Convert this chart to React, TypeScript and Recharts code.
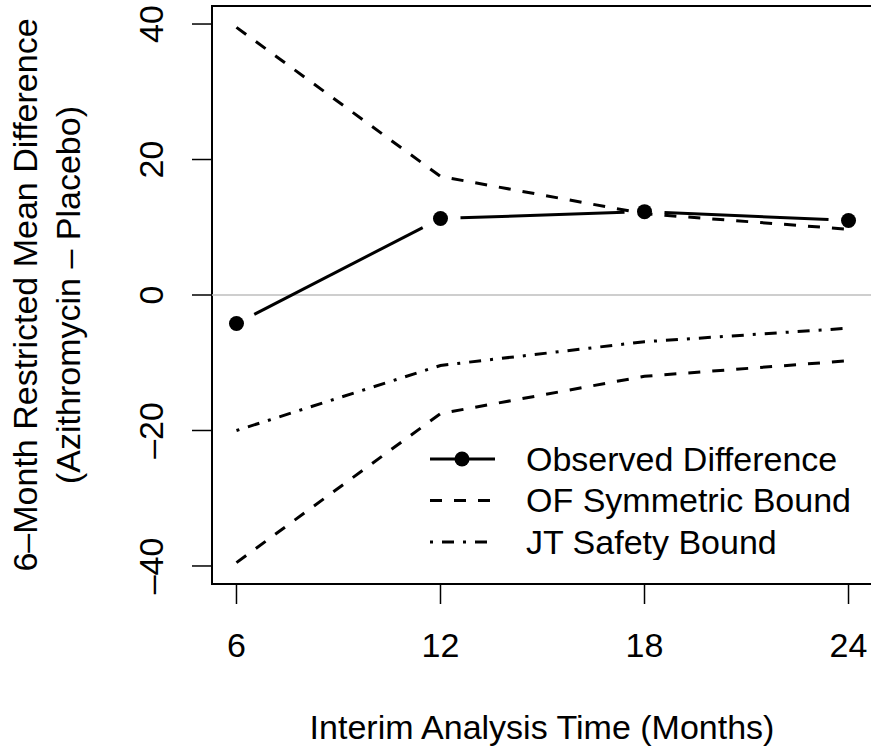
import React from 'react';
import { LineChart, Line, XAxis, YAxis, ReferenceLine, ReferenceArea, Legend } from 'recharts';

// interim looks (months) and the values
const months = [6, 12, 18, 24];
const observedDiff = [-4.2, 11.3, 12.3, 11.0];
const ofUpper = [39.5, 17.5, 12.0, 9.7];
const ofLower = [-39.5, -17.5, -12.0, -9.7];
const jtSafety = [-20.0, -10.4, -6.9, -4.9];
const yTicks = [-40, -20, 0, 20, 40];
const legendKeys = ['observed', 'ofUp', 'jt'];
const legendNames = ['Observed Difference', 'OF Symmetric Bound', 'JT Safety Bound'];

const data = months.map((m, i) => ({
  month: m,
  observed: observedDiff[i],
  ofUp: ofUpper[i],
  ofLow: ofLower[i],
  jt: jtSafety[i],
}));

const FONT = '"Liberation Sans", Arial, Helvetica, sans-serif';
const FS = 34;
// base R style 4% padding around the data range
const X_MIN = 5.28;
const X_MAX = 24.72;
const Y_LIM = 42.66;

const DASHED = '12 12';
const DOT_DASH = '3 9 12 9';
const GAP = 20; // type="b" gap around the points

const dashFor: Record<string, string | undefined> = {
  observed: undefined,
  ofUp: DASHED,
  jt: DOT_DASH,
};

const XTick = (props: any) => {
  const { x, y, payload } = props;
  return (
    <text x={x} y={y + 51} textAnchor="middle" fontSize={FS} fontFamily={FONT} fill="#000">
      {payload.value}
    </text>
  );
};

const YTick = (props: any) => {
  const { x, y, payload } = props;
  const v = payload.value;
  const label = v < 0 ? `\u2013${Math.abs(v)}` : `${v}`;
  const tx = x - 27;
  return (
    <text x={tx} y={y} transform={`rotate(-90 ${tx} ${y})`} textAnchor="middle" fontSize={FS} fontFamily={FONT} fill="#000">
      {label}
    </text>
  );
};

// point plus the segment to the next point, shortened at both ends like plot(type = "b")
const ObservedDot = (props: any) => {
  const { cx, cy, index, points } = props;
  const next = points && points[index + 1];
  let seg = null;
  if (next) {
    const dx = next.x - cx;
    const dy = next.y - cy;
    const len = Math.hypot(dx, dy);
    if (len > GAP * 2) {
      const ux = dx / len;
      const uy = dy / len;
      seg = (
        <line
          x1={cx + ux * GAP}
          y1={cy + uy * GAP}
          x2={next.x - ux * GAP}
          y2={next.y - uy * GAP}
          stroke="#000"
          strokeWidth={3}
        />
      );
    }
  }
  return (
    <g key={`obs-${index}`}>
      {seg}
      <circle cx={cx} cy={cy} r={7.5} fill="#000" />
    </g>
  );
};

const YTitle = () => (
  <g fontSize={FS} fontFamily={FONT} fill="#000">
    <text x={37} y={295} transform="rotate(-90 37 295)" textAnchor="middle">
      6–Month Restricted Mean Difference
    </text>
    <text x={80} y={295} transform="rotate(-90 80 295)" textAnchor="middle">
      (Azithromycin – Placebo)
    </text>
  </g>
);

const XTitle = () => (
  <text x={542} y={739} textAnchor="middle" fontSize={FS} fontFamily={FONT} fill="#000">
    Interim Analysis Time (Months)
  </text>
);

const LegendBox = () => (
  <svg width={460} height={130} style={{ display: 'block' }}>
    {legendKeys.map((key, i) => {
      const y = 29 + i * 41.5;
      const isObs = key === 'observed';
      return (
        <g key={key}>
          <line x1={30} x2={95} y1={y} y2={y} stroke="#000" strokeWidth={3} strokeDasharray={dashFor[key]} />
          {isObs && <circle cx={62} cy={y} r={7.5} fill="#000" />}
          <text x={126} y={y} dy="0.35em" fontSize={FS} fontFamily={FONT} fill="#000">
            {legendNames[i]}
          </text>
        </g>
      );
    })}
  </svg>
);

export default function App() {
  return (
    <div style={{ position: 'absolute', left: 0, top: 0, width: 871, height: 753, overflow: 'hidden', background: '#fff' }}>
      <LineChart width={873} height={753} data={data} margin={{ top: 6, right: 0, bottom: 139, left: 152 }}>
        <XAxis
          dataKey="month"
          type="number"
          domain={[X_MIN, X_MAX]}
          ticks={months}
          interval={0}
          height={30}
          axisLine={false}
          tickSize={20}
          tickLine={{ stroke: '#000', strokeWidth: 1.5 }}
          tick={<XTick />}
          label={{ content: () => <XTitle /> }}
        />
        <YAxis
          type="number"
          domain={[-Y_LIM, Y_LIM]}
          ticks={yTicks}
          interval={0}
          width={60}
          axisLine={false}
          tickSize={20}
          tickLine={{ stroke: '#000', strokeWidth: 1.5 }}
          tick={<YTick />}
          label={{ content: () => <YTitle /> }}
        />
        <ReferenceLine y={0} stroke="#bebebe" strokeWidth={1.5} />
        <Line
          dataKey="observed"
          name={legendNames[0]}
          stroke="none"
          dot={<ObservedDot />}
          activeDot={false}
          isAnimationActive={false}
        />
        <Line
          dataKey="ofUp"
          name={legendNames[1]}
          type="linear"
          stroke="#000"
          strokeWidth={3}
          strokeDasharray={DASHED}
          dot={false}
          activeDot={false}
          isAnimationActive={false}
        />
        <Line
          dataKey="ofLow"
          name="OF lower"
          type="linear"
          stroke="#000"
          strokeWidth={3}
          strokeDasharray={DASHED}
          dot={false}
          activeDot={false}
          legendType="none"
          isAnimationActive={false}
        />
        <Line
          dataKey="jt"
          name={legendNames[2]}
          type="linear"
          stroke="#000"
          strokeWidth={3}
          strokeDasharray={DOT_DASH}
          dot={false}
          activeDot={false}
          isAnimationActive={false}
        />
        <ReferenceArea x1={X_MIN} x2={X_MAX} y1={-Y_LIM} y2={Y_LIM} fill="none" stroke="#000" strokeWidth={2} />
        <Legend
          layout="horizontal"
          verticalAlign="middle"
          align="center"
          wrapperStyle={{ left: 400, top: 430, width: 460 }}
          content={<LegendBox />}
        />
      </LineChart>
    </div>
  );
}
